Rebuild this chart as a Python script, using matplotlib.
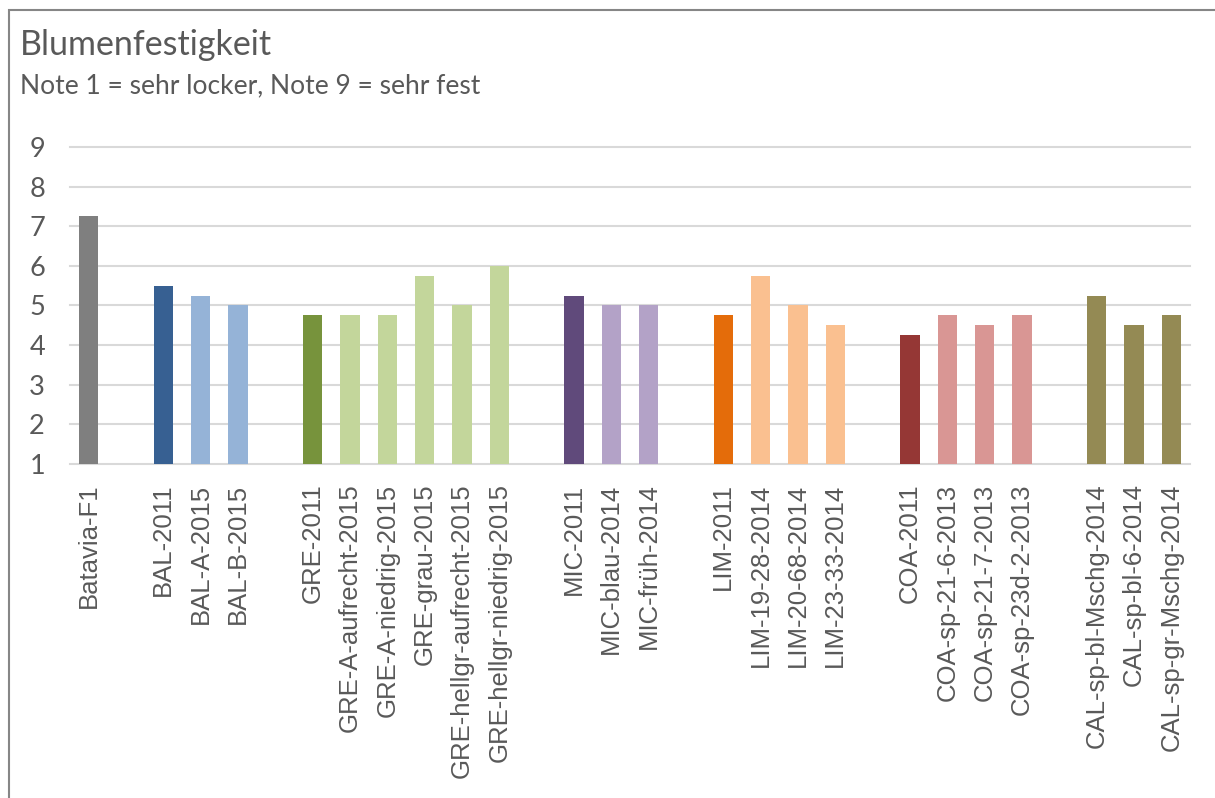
import matplotlib.pyplot as plt
from matplotlib.patches import Rectangle

# categories, with empty slots separating the groups
labels = ["Batavia-F1", "",
          "BAL-2011", "BAL-A-2015", "BAL-B-2015", "",
          "GRE-2011", "GRE-A-aufrecht-2015", "GRE-A-niedrig-2015", "GRE-grau-2015",
          "GRE-hellgr-aufrecht-2015", "GRE-hellgr-niedrig-2015", "",
          "MIC-2011", "MIC-blau-2014", "MIC-früh-2014", "",
          "LIM-2011", "LIM-19-28-2014", "LIM-20-68-2014", "LIM-23-33-2014", "",
          "COA-2011", "COA-sp-21-6-2013", "COA-sp-21-7-2013", "COA-sp-23d-2-2013", "",
          "CAL-sp-bl-Mschg-2014", "CAL-sp-bl-6-2014", "CAL-sp-gr-Mschg-2014"]
values = [7.25, None,
          5.5, 5.25, 5.0, None,
          4.75, 4.75, 4.75, 5.75, 5.0, 6.0, None,
          5.25, 5.0, 5.0, None,
          4.75, 5.75, 5.0, 4.5, None,
          4.25, 4.75, 4.5, 4.75, None,
          5.25, 4.5, 4.75]
colors = ["#7F7F7F", None,
          "#376092", "#95B3D7", "#95B3D7", None,
          "#77933C", "#C3D69B", "#C3D69B", "#C3D69B", "#C3D69B", "#C3D69B", None,
          "#604A7B", "#B3A2C7", "#B3A2C7", None,
          "#E46C0A", "#FAC090", "#FAC090", "#FAC090", None,
          "#953735", "#D99694", "#D99694", "#D99694", None,
          "#948A54", "#948A54", "#948A54"]

fig = plt.figure(figsize=(12.15, 7.98), dpi=100)
fig.patches.append(Rectangle((9 / 1215, -0.1), 1.2, 1.1 - 10 / 798, transform=fig.transFigure,
                             fill=False, edgecolor="#868686", linewidth=1.5))

ax = fig.add_axes([70 / 1215, 1 - 464 / 798, 1120 / 1215, 317 / 798])
base = 1
for i, (v, c) in enumerate(zip(values, colors)):
    if v is None:
        continue
    ax.bar(i, v - base, bottom=base, width=0.51, color=c, zorder=3)

ax.set_xlim(-0.5, len(labels) - 0.5)
ax.set_ylim(1, 9)
ax.set_yticks(range(1, 10))
ax.yaxis.grid(True, color="#D9D9D9", linewidth=1.5, zorder=0)
ax.set_axisbelow(True)
for s in ax.spines.values():
    s.set_visible(False)
ax.tick_params(axis="both", length=0)
ax.tick_params(axis="y", labelsize=19.5, labelcolor="#595959", pad=18)
for t in ax.get_yticklabels():
    t.set_fontfamily("Lato")
ax.set_xticks(range(len(labels)))
ax.set_xticklabels(labels, rotation=90, fontsize=18.5, color="#595959",
                   family="Liberation Sans")
ax.tick_params(axis="x", pad=14)
for gl in ax.get_ygridlines():
    gl.set_clip_on(False)

fig.text(20 / 1215, 1 - 45 / 798, "Blumenfestigkeit", fontsize=24.5, color="#595959",
         family="Lato", va="center", ha="left")
fig.text(20 / 1215, 1 - 86 / 798, "Note 1 = sehr locker, Note 9 = sehr fest", fontsize=19,
         color="#595959", family="Lato", va="center", ha="left")

fig.savefig("out.png", dpi=100)
